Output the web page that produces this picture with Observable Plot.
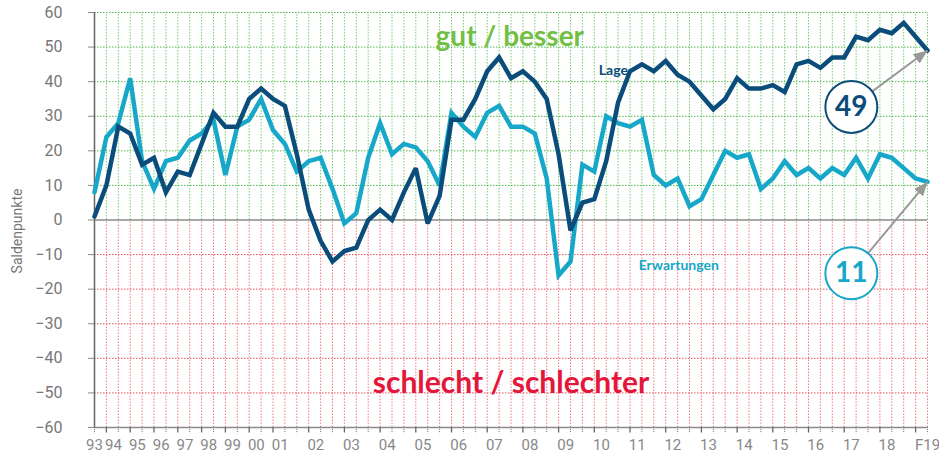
<!DOCTYPE html>
<html><head><meta charset="utf-8">
<script src="https://cdn.jsdelivr.net/npm/d3@7"></script>
<script src="https://cdn.jsdelivr.net/npm/@observablehq/plot@0.6"></script>
<style>body{margin:0;background:#fff;}</style>
</head><body><div id="chart"></div>
<script>
// Survey index: 1993 (1 pt), 1994-2000 (2/yr), 2001-2018 (3/yr), 2019 (2 pts, last = F19)
const lage = [1,10,27,25,16,18,8,14,13,22,31,27,27,35,38,35,33,19,3,-6,-12,-9,-8,0,3,0,8,15,-1,7,29,29,35,43,47,41,43,40,35,19,-3,5,6,17,34,43,45,43,46,42,40,36,32,35,41,38,38,39,37,45,46,44,47,47,53,52,55,54,57,53,49];
const erwartungen = [8,24,28,41,17,9,17,18,23,25,29,13,27,29,35,26,22,14,17,18,9,-1,2,18,28,19,22,21,17,10,31,27,24,31,33,27,27,25,12,-16,-12,16,14,30,28,27,29,13,10,12,4,6,13,20,18,19,9,12,17,13,15,12,15,13,18,12,19,18,15,12,11];
const yearLabels = ["93","94","95","96","97","98","99","00","01","02","03","04","05","06","07","08","09","10","11","12","13","14","15","16","17","18","F19"];
const yearLabelPos = [0,1.6,3.6,5.6,7.6,9.6,11.6,13.6,15.6,18.6,21.6,24.6,27.6,30.6,33.6,36.6,39.6,42.6,45.6,48.6,51.6,54.6,57.6,60.6,63.6,66.6,70];
const yearStarts = [1,3,5,7,9,11,13,15,18,21,24,27,30,33,36,39,42,45,48,51,54,57,60,63,66,69];
const yTicks = d3.range(-60, 61, 10);

const idx = d3.range(lage.length);
const minorTicks = idx.filter(i => !yearStarts.includes(i));
const navy = "#0a4c7a", teal = "#17a7c8";
const gridGreen = "#4cb848", gridRed = "#e8505c";

const plot = Plot.plot({
  width: 939, height: 453,
  marginLeft: 94, marginRight: 12, marginTop: 12, marginBottom: 26,
  x: {domain: [0, 70]},
  y: {domain: [-60, 60]},
  style: {fontFamily: "Roboto, sans-serif", background: "transparent", color: "#777"},
  marks: [
    // grid
    Plot.ruleX(idx, {y1: 0, y2: 60, stroke: gridGreen, strokeWidth: 1, strokeDasharray: "1.5,1.5", strokeOpacity: 0.75}),
    Plot.ruleX(idx, {y1: -60, y2: 0, stroke: gridRed, strokeWidth: 1, strokeDasharray: "1.5,1.5", strokeOpacity: 0.75}),
    Plot.ruleY(yTicks.filter(v => v > 0), {stroke: gridGreen, strokeWidth: 1, strokeDasharray: "1.5,1.5"}),
    Plot.ruleY(yTicks.filter(v => v < 0 && v > -60), {stroke: gridRed, strokeWidth: 1, strokeDasharray: "1.5,1.5"}),
    Plot.ruleY([0], {stroke: "#8a8a8a", strokeWidth: 1.5}),
    Plot.ruleY([-60], {stroke: "#8a8a8a", strokeWidth: 1.5}),
    Plot.ruleX([0], {stroke: "#666", strokeWidth: 1.5}),
    // x ticks
    Plot.ruleX(yearStarts, {y1: -60, y2: -61.6, stroke: "#666", strokeWidth: 1.3}),
    Plot.ruleX(minorTicks, {y1: -60, y2: -61.8, stroke: "#777", strokeWidth: 1, strokeDasharray: "1,1"}),
    // axes
    Plot.axisY({ticks: yTicks, tickSize: 6, tickPadding: 26, fontSize: 16, stroke: "#888", fill: "#777", label: null}),
    Plot.axisX({ticks: yearLabelPos, tickFormat: d => yearLabels[yearLabelPos.indexOf(d)], tickSize: 0, tickPadding: 12, fontSize: 15, fill: "#888", label: null}),
    Plot.text(["Saldenpunkte"], {frameAnchor: "left", textAnchor: "middle", dx: -77, dy: 11, rotate: -90, fontSize: 14, fill: "#777"}),
    // section labels
    Plot.text(["gut / besser"], {x: 34.9, y: 52.8, fill: "#72bf44", fontSize: 28, fontWeight: "bold", fontFamily: "Lato"}),
    Plot.text(["schlecht / schlechter"], {x: 35, y: -47.2, fill: "#e4163a", fontSize: 30, fontWeight: "bold", fontFamily: "Lato"}),
    // lines
    Plot.line(erwartungen, {x: (d, i) => i, y: d => d, stroke: teal, strokeWidth: 4.5, strokeLinejoin: "miter", strokeMiterlimit: 3}),
    Plot.line(lage, {x: (d, i) => i, y: d => d, stroke: navy, strokeWidth: 4.5, strokeLinejoin: "miter", strokeMiterlimit: 3}),
    Plot.text(["Lage"], {x: 43.6, y: 43.3, fill: navy, fontSize: 14, fontWeight: "bold", fontFamily: "Lato"}),
    Plot.text(["Erwartungen"], {x: 49.1, y: -13.1, fill: teal, fontSize: 14, fontWeight: "bold", fontFamily: "Lato"}),
    // callouts
    Plot.link([0], {x1: 63.6, y1: 32.7, x2: 70, y2: lage[lage.length - 1], stroke: "#999", strokeWidth: 2, markerEnd: "arrow"}),
    Plot.link([0], {x1: 63.6, y1: -15.4, x2: 70, y2: erwartungen[erwartungen.length - 1], stroke: "#999", strokeWidth: 2, markerEnd: "arrow"}),
    Plot.dot([0], {x: 63.6, y: 32.7, r: 26, fill: "white", stroke: navy, strokeWidth: 2}),
    Plot.dot([0], {x: 63.6, y: -15.4, r: 26, fill: "white", stroke: teal, strokeWidth: 2}),
    Plot.text([String(lage[lage.length - 1])], {x: 63.6, y: 32.7, fill: navy, fontSize: 28, fontWeight: "bold", fontFamily: "Lato"}),
    Plot.text([String(erwartungen[erwartungen.length - 1])], {x: 63.6, y: -15.4, fill: teal, fontSize: 28, fontWeight: "bold", fontFamily: "Lato"})
  ]
});

// filled arrowheads
d3.select(plot).selectAll("marker").each(function() {
  const m = d3.select(this);
  m.attr("viewBox", "-12 -6 12 12").attr("markerUnits", "userSpaceOnUse")
   .attr("markerWidth", 14).attr("markerHeight", 14).attr("refX", 0).attr("refY", 0)
   .attr("fill", "#999").attr("stroke", "none");
  m.selectAll("path").attr("d", "M-12,-5L0,0L-12,5Z").attr("fill", "#999").attr("stroke", "none");
});
document.getElementById("chart").appendChild(plot);
</script>
</body></html>
